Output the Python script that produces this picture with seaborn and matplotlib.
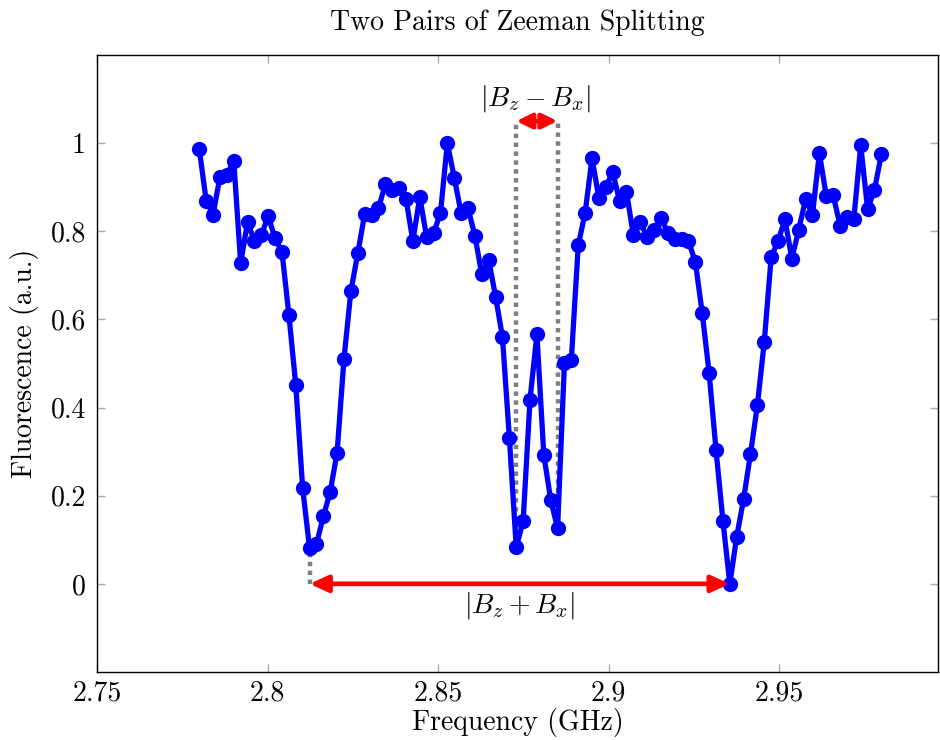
import numpy as np
import pandas as pd
import matplotlib
matplotlib.use('Agg')
import matplotlib.pyplot as plt
import seaborn as sns

# Частотная развертка (ГГц) и измеренная флуоресценция
freq_start, freq_stop, n_points = 2.78, 2.98, 100
fluorescence = [
    0.986, 0.869, 0.838, 0.924, 0.928, 0.960, 0.728, 0.820, 0.779, 0.792,
    0.834, 0.784, 0.753, 0.611, 0.451, 0.217, 0.081, 0.090, 0.153, 0.209,
    0.298, 0.511, 0.664, 0.750, 0.839, 0.837, 0.852, 0.907, 0.894, 0.899,
    0.873, 0.778, 0.878, 0.786, 0.796, 0.841, 1.000, 0.922, 0.841, 0.852,
    0.790, 0.702, 0.735, 0.652, 0.560, 0.332, 0.083, 0.142, 0.418, 0.566,
    0.293, 0.191, 0.126, 0.502, 0.509, 0.768, 0.842, 0.966, 0.875, 0.901,
    0.934, 0.869, 0.890, 0.791, 0.821, 0.786, 0.803, 0.830, 0.797, 0.782,
    0.782, 0.778, 0.730, 0.614, 0.478, 0.303, 0.143, 0.000, 0.107, 0.192,
    0.295, 0.405, 0.549, 0.741, 0.778, 0.827, 0.738, 0.803, 0.873, 0.838,
    0.977, 0.880, 0.882, 0.813, 0.833, 0.828, 0.995, 0.850, 0.894, 0.975,
]
frequency = np.linspace(freq_start, freq_stop, n_points)
df = pd.DataFrame({'Frequency': frequency, 'Fluorescence': fluorescence})

# Индексы минимумов для аннотаций
outer_dips = [16, 77]
inner_dips = [46, 52]
inner_top = 1.05

x_ticks = [2.75, 2.8, 2.85, 2.9, 2.95]
x_tick_labels = ['2.75', '2.8', '2.85', '2.9', '2.95']
y_ticks = [0, 0.2, 0.4, 0.6, 0.8, 1]
y_tick_labels = ['0', '0.2', '0.4', '0.6', '0.8', '1']

sns.set_theme(style='white')
plt.rcParams['font.family'] = ['serif']
plt.rcParams['font.serif'] = ['cmr10', 'DejaVu Serif']
plt.rcParams['mathtext.fontset'] = 'cm'
plt.rcParams['axes.formatter.use_mathtext'] = True
plt.rcParams['text.color'] = 'black'
plt.rcParams['axes.labelcolor'] = 'black'
plt.rcParams['xtick.labelcolor'] = 'black'
plt.rcParams['ytick.labelcolor'] = 'black'

fs = 20

fig = plt.figure(figsize=(9.4, 7.4), dpi=100)
ax = fig.add_axes([97 / 940, 68 / 740, 841 / 940, 617 / 740])

sns.lineplot(data=df, x='Frequency', y='Fluorescence', ax=ax, color='blue',
             linewidth=3.8, marker='o', markersize=11, markeredgewidth=0, zorder=3)

# Пунктирные линии от минимумов
dots = dict(color='gray', lw=3.2, linestyle=(0, (1, 1)), zorder=2, solid_capstyle='butt')
x0, x1 = frequency[outer_dips[0]], frequency[outer_dips[1]]
ax.plot([x0, x0], [0, fluorescence[outer_dips[0]]], **dots)
for i in inner_dips:
    ax.plot([frequency[i], frequency[i]], [fluorescence[i], inner_top], **dots)

arrow = dict(arrowstyle='<|-|>,head_length=0.55,head_width=0.25', color='red', lw=3.4,
             shrinkA=0, shrinkB=0, mutation_scale=20)
ax.annotate('', xy=(x1, 0), xytext=(x0, 0), arrowprops=arrow, zorder=4)
xi0, xi1 = frequency[inner_dips[0]], frequency[inner_dips[1]]
arrow_small = dict(arrow, arrowstyle='<|-|>,head_length=0.45,head_width=0.22')
ax.annotate('', xy=(xi1, inner_top), xytext=(xi0, inner_top), arrowprops=arrow_small, zorder=4)

ax.text((x0 + x1) / 2, -0.015, r'$|B_z + B_x|$', ha='center', va='top', fontsize=fs)
ax.text((xi0 + xi1) / 2 - 0.0005, 1.065, r'$|B_z - B_x|$', ha='center', va='bottom', fontsize=fs)

ax.set_xlim(2.75, 2.9966)
ax.set_ylim(-0.2, 1.2)
ax.set_xticks(x_ticks)
ax.set_xticklabels(x_tick_labels)
ax.set_yticks(y_ticks)
ax.set_yticklabels(y_tick_labels)
ax.tick_params(direction='in', length=6, width=1, color='#aaaaaa', labelsize=fs,
               top=True, right=True, bottom=True, left=True, pad=8)
ax.tick_params(axis='x', pad=6)
for s in ax.spines.values():
    s.set_color('black')
    s.set_linewidth(1.0)

ax.set_title('Two Pairs of Zeeman Splitting', fontsize=fs, pad=18)
ax.set_xlabel('Frequency (GHz)', fontsize=fs, labelpad=1)
ax.set_ylabel('Fluorescence (a.u.)', fontsize=fs, labelpad=8)

fig.savefig('out.png', dpi=100)
